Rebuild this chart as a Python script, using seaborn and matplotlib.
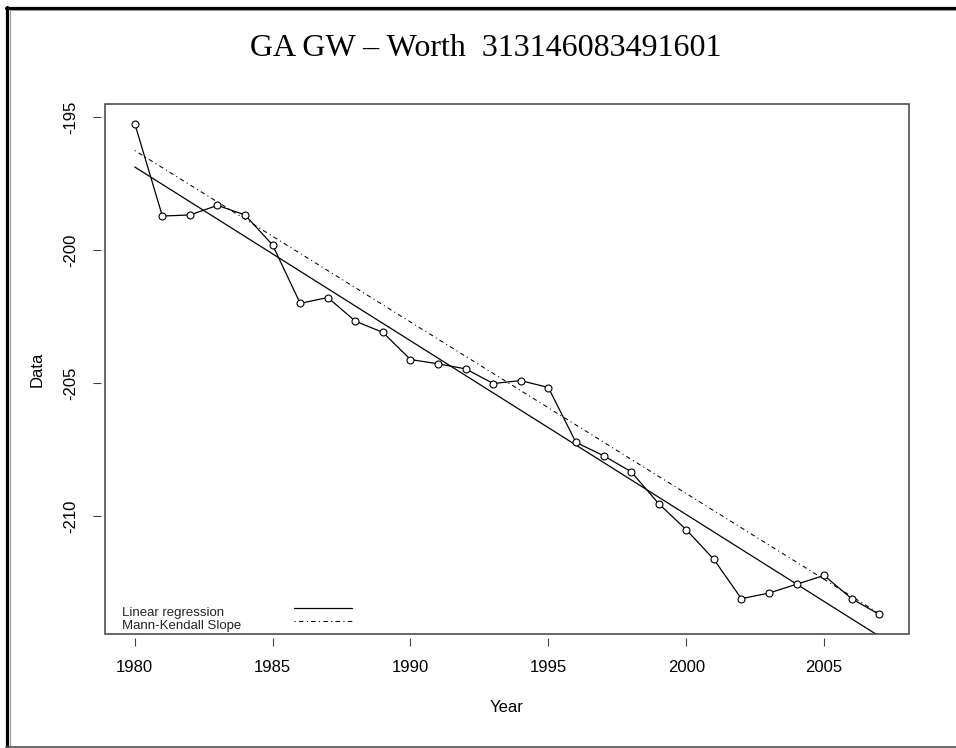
import numpy as np
import pandas as pd
import matplotlib
matplotlib.use("Agg")
import matplotlib.pyplot as plt
import seaborn as sns
from matplotlib.lines import Line2D
from matplotlib.patches import Rectangle
from matplotlib.transforms import Bbox

# ---- data ----
years = list(range(1980, 2008))
levels = [-195.25, -198.72, -198.68, -198.32, -198.68, -199.81, -202.00, -201.78,
          -202.67, -203.09, -204.11, -204.27, -204.46, -205.01, -204.90, -205.16,
          -207.22, -207.72, -208.32, -209.52, -210.50, -211.61, -213.09, -212.88,
          -212.55, -212.22, -213.09, -213.68]
x_ticks = [1980, 1985, 1990, 1995, 2000, 2005]
y_ticks = [-195, -200, -205, -210]
legend_labels = ["Linear regression", "Mann-Kendall Slope"]
title_text = "GA GW \u2013 Worth  313146083491601"

sns.set_theme(style="white")
plt.rcParams["font.family"] = ["Liberation Sans", "DejaVu Sans"]
plt.rcParams["lines.scale_dashes"] = False

df = pd.DataFrame({"Year": years, "Data": levels})
x = np.asarray(years, dtype=float)
y = np.asarray(levels, dtype=float)

# linear regression
lr_slope, lr_icpt = np.polyfit(x, y, 1)
# Sen's (Mann-Kendall) slope
i, j = np.triu_indices(len(x), 1)
sen_slope = np.median((y[j] - y[i]) / (x[j] - x[i]))
sen_icpt = np.median(y) - sen_slope * np.median(x)

xl = np.array([x[0], x[-1]])
lr = pd.DataFrame({"Year": xl, "Data": lr_icpt + lr_slope * xl})
mk = pd.DataFrame({"Year": xl, "Data": sen_icpt + sen_slope * xl})

W, H = 956, 748
fig = plt.figure(figsize=(W / 100, H / 100), dpi=100)
fig.patch.set_facecolor("white")
ax = fig.add_axes([105 / W, (H - 634) / H, 804 / W, 530 / H])

DASHDOT = (0.8, 2.4, 3.2, 2.4)

sns.lineplot(data=df, x="Year", y="Data", ax=ax, color="black", lw=0.9,
             marker="o", markersize=5, markerfacecolor="white",
             markeredgecolor="black", markeredgewidth=0.8, zorder=3)
sns.lineplot(data=lr, x="Year", y="Data", ax=ax, color="black", lw=0.9, zorder=2)
sns.lineplot(data=mk, x="Year", y="Data", ax=ax, color="black", lw=0.75,
             dashes=DASHDOT, zorder=2)

xr = x.max() - x.min()
yr = y.max() - y.min()
ax.set_xlim(x.min() - 0.04 * xr, x.max() + 0.04 * xr)
ax.set_ylim(y.min() - 0.04 * yr, y.max() + 0.04 * yr)

ax.set_xticks(x_ticks)
ax.set_xticklabels([str(t) for t in x_ticks])
ax.set_yticks(y_ticks)
ax.set_yticklabels([str(t) for t in y_ticks])

for s in ax.spines.values():
    s.set_visible(False)
ax.spines["left"].set_position(("outward", 3))
ax.spines["bottom"].set_position(("outward", 3))
ax.add_patch(Rectangle((0, 0), 1, 1, transform=ax.transAxes, fill=False,
                       ec="#404040", lw=1.1, clip_on=False, zorder=6))

ax.tick_params(axis="both", which="major", direction="out", length=5.5, width=0.8,
               color="#404040", labelsize=12, labelcolor="black",
               bottom=True, left=True, top=False, right=False)
ax.tick_params(axis="x", pad=10.5)
ax.tick_params(axis="y", pad=11, labelrotation=90)
for lab in ax.get_yticklabels():
    lab.set_va("center")
# the top y label is cut by the figure region in the original
top_lab = ax.get_yticklabels()[0]
top_lab.set_clip_box(Bbox.from_extents(0, 0, W, H - 97))
top_lab.set_clip_on(True)

ax.set_xlabel("Year", fontsize=12, color="black")
ax.set_ylabel("Data", fontsize=12, color="black")
ax.xaxis.set_label_coords(0.5, -(707 - 634) / 530)
ax.xaxis.label.set_va("center")
ax.yaxis.set_label_coords(-(105 - 37) / 804, 0.5)
ax.yaxis.label.set_va("center")

# legend: left-aligned texts, line samples in a separate column
text_handles = [Line2D([], [], color="none"), Line2D([], [], color="none")]
leg_text = ax.legend(text_handles, legend_labels, loc="lower left",
                     bbox_to_anchor=((122 - 105) / 804, 2 / 530), frameon=False,
                     fontsize=9.5, handlelength=0, handletextpad=0,
                     labelspacing=0.05, borderpad=0, borderaxespad=0)
ax.add_artist(leg_text)
line_handles = [Line2D([], [], color="black", lw=0.9),
                Line2D([], [], color="black", lw=0.75, dashes=DASHDOT)]
ax.legend(line_handles, [" ", " "], loc="lower left",
          bbox_to_anchor=((294 - 105) / 804, 5 / 530), frameon=False,
          fontsize=9.5, handlelength=4.4, handletextpad=0,
          labelspacing=0.05, borderpad=0, borderaxespad=0)

fig.text(486 / W, 1 - 48 / H, title_text, ha="center", va="center",
         fontsize=23, family=["Liberation Serif", "DejaVu Serif"], color="black")

# page frame
fig.add_artist(Line2D([7 / W, 7 / W], [0, 1 - 7 / H], transform=fig.transFigure,
                      color="black", lw=2.3))
fig.add_artist(Line2D([5.5 / W, 1], [1 - 8 / H, 1 - 8 / H], transform=fig.transFigure,
                      color="black", lw=2.3))
fig.add_artist(Line2D([9.5 / W, 9.5 / W], [1.5 / H, 1 - 10 / H], transform=fig.transFigure,
                      color="#9a9a9a", lw=0.8))
fig.add_artist(Line2D([9.5 / W, 1], [1 - 10 / H, 1 - 10 / H], transform=fig.transFigure,
                      color="#9a9a9a", lw=0.8))
fig.add_artist(Line2D([5.5 / W, 1], [1.5 / H, 1.5 / H], transform=fig.transFigure,
                      color="#555555", lw=1.2))

fig.savefig("out.png", dpi=100, facecolor="white")
